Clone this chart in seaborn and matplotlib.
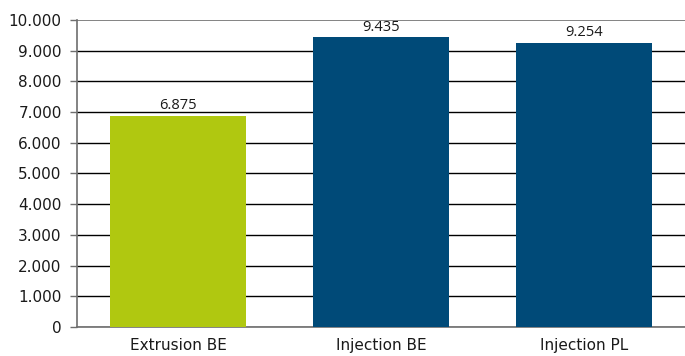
import numpy as np
import pandas as pd
import matplotlib
matplotlib.use('Agg')
import matplotlib.pyplot as plt
import seaborn as sns
from matplotlib.ticker import FuncFormatter, FixedLocator

# data
categories = ['Extrusion BE', 'Injection BE', 'Injection PL']
values = [6875, 9435, 9254]
bar_colors = ['#b0c810', '#004a78', '#004a78']

df = pd.DataFrame({'cat': categories, 'val': values})

sns.set_style('white')
plt.rcParams['font.family'] = ['DejaVu Sans']

fig = plt.figure(figsize=(6.85, 3.56), dpi=100)
ax = fig.add_axes([0.1124, 0.0815, 0.8876, 0.8624])

sns.barplot(data=df, x='cat', y='val', hue='cat', palette=bar_colors,
            width=0.67, saturation=1, legend=False, ax=ax, zorder=3, linewidth=0)

# value labels on top of bars
for i, v in enumerate(values):
    ax.annotate(f'{v/1000:.3f}', (i, v), xytext=(0, 2), textcoords='offset points',
                ha='center', va='bottom', fontsize=10.5, family='Open Sans', color='#1a1a1a')

ax.set_ylim(0, 10000)
ax.set_xlim(-0.5, 2.5)
ax.set_yticks(np.arange(0, 10001, 1000))
ax.yaxis.set_major_formatter(FuncFormatter(lambda v, p: f'{int(v):,}'.replace(',', '.')))
ax.yaxis.grid(True, color='black', linewidth=1)
ax.set_axisbelow(True)
ax.get_ygridlines()[-1].set_color('#6e6e6e')
ax.get_ygridlines()[-1].set_linewidth(1.2)

ax.xaxis.set_minor_locator(FixedLocator([-0.5, 0.5, 1.5, 2.5]))
ax.tick_params(axis='x', which='major', length=0, pad=8, labelsize=11, labelcolor='#1a1a1a')
ax.tick_params(axis='x', which='minor', length=5, width=1, color='#6e6e6e', direction='out')
ax.tick_params(axis='y', length=5, width=1, color='#6e6e6e', direction='out', labelsize=11,
               labelcolor='#1a1a1a', pad=6, left=True)

for s in ['top', 'right']:
    ax.spines[s].set_visible(False)
for s in ['left', 'bottom']:
    ax.spines[s].set_color('#6e6e6e')
    ax.spines[s].set_linewidth(1.2)

ax.set_xlabel('')
ax.set_ylabel('')

fig.savefig('out.png', dpi=100)
